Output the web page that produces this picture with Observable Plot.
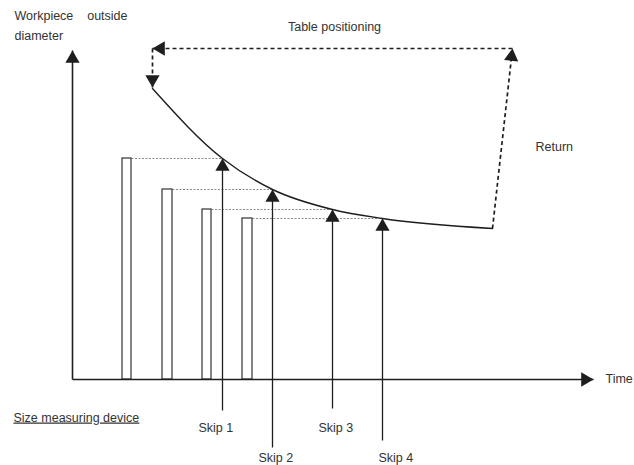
<!DOCTYPE html>
<html>
<head>
<meta charset="utf-8">
<script src="https://cdn.jsdelivr.net/npm/d3@7"></script>
<script src="https://cdn.jsdelivr.net/npm/@observablehq/plot@0.6"></script>
<style>
  html, body { margin: 0; padding: 0; background: #fff; }
</style>
</head>
<body>
<div id="chart"></div>
<script>
// ---- Data (time units / diameter units) ----
const curveT = [8.0, 15.0, 20.0, 26.0, 31.0, 42.0];
const curveD = [29.1, 22.1, 19.0, 17.0, 16.1, 15.1];

const skipNames = ["Skip 1", "Skip 2", "Skip 3", "Skip 4"];
const skipT = [15.0, 20.0, 26.0, 31.0];
const skipD = [22.1, 19.0, 17.0, 16.1];
const skipTail = [-3.1, -6.8, -2.9, -6.1];
const labelT = [12.6, 18.6, 24.6, 30.6];
const labelD = [-4.8, -7.8, -4.8, -7.8];

const barStart = [5.0, 9.0, 13.0, 17.0];
const barEnd = [5.9, 10.0, 13.9, 18.0];

const timeAxisEnd = 52.1;
const diamAxisEnd = 32.9;

const returnT = [42.0, 44.0];
const returnD = [15.1, 33.1];
const positioningT = [44.0, 8.0];

const leftLabels = ["Workpiece\u00a0\u00a0\u00a0\u00a0outside", "diameter", "Return", "Time", "Size measuring device"];
const leftT = [-5.8, -5.8, 46.3, 53.3, -5.9];
const leftD = [36.4, 34.4, 23.3, 0.1, -3.8];
const centerLabels = ["Table positioning"];
const centerT = [26.2];
const centerD = [35.3];

// ---- Build tables ----
const skips = skipNames.map((name, i) => ({name, t: skipT[i], d: skipD[i], tail: skipTail[i], lt: labelT[i], ld: labelD[i]}));
const bars = barStart.map((s, i) => ({t1: s, t2: barEnd[i], d: skipD[i], guideEnd: skipT[i]}));
const curve = curveT.map((t, i) => ({t, d: curveD[i]}));
const leftTexts = leftLabels.map((s, i) => ({s, t: leftT[i], d: leftD[i]}));
const centerTexts = centerLabels.map((s, i) => ({s, t: centerT[i], d: centerD[i]}));

const ink = "#1e1e1e";
const txt = "#333";
const HEAD = 8.2;
function head(t, d, deg) {
  const r = deg * Math.PI / 180;
  return Plot.dot([{t, d}], {
    x: "t", y: "d", symbol: "triangle", r: 5.3, fill: ink, stroke: "none",
    rotate: deg, dx: -HEAD * Math.sin(r), dy: HEAD * Math.cos(r)
  });
}
const returnAngle = Math.atan2((returnT[1] - returnT[0]) * 10, (returnD[1] - returnD[0]) * 10) * 180 / Math.PI;

const chart = Plot.plot({
  width: 634,
  height: 465,
  margin: 0,
  x: {domain: [-7.2, 56.2], axis: null},
  y: {domain: [-8.6, 37.9], axis: null},
  style: {fontFamily: "'Liberation Sans', Arial, sans-serif", fontSize: "12.5px", background: "#fff", overflow: "visible"},
  marks: [
    // guide lines from bar tops to the curve
    Plot.link(bars, {x1: "t2", x2: "guideEnd", y1: "d", y2: "d", stroke: "#8a8a8a", strokeWidth: 1, strokeDasharray: "2,1.5"}),
    // measuring bars
    Plot.rect(bars, {x1: "t1", x2: "t2", y1: 0, y2: "d", fill: "#fff", stroke: "#333", strokeWidth: 1.2}),
    // axes
    Plot.link([{t1: 0, d1: 0, t2: 0, d2: diamAxisEnd}, {t1: 0, d1: 0, t2: timeAxisEnd, d2: 0}],
      {x1: "t1", y1: "d1", x2: "t2", y2: "d2", stroke: ink, strokeWidth: 1.6}),
    head(0, diamAxisEnd, 0),
    head(timeAxisEnd, 0, 90),
    // diameter curve
    Plot.line(curve, {x: "t", y: "d", curve: "monotone-x", stroke: ink, strokeWidth: 1.4}),
    // skip arrows
    Plot.link(skips, {x1: "t", x2: "t", y1: "tail", y2: "d", stroke: ink, strokeWidth: 1.3}),
    ...skips.map(s => head(s.t, s.d, 0)),
    // return / table positioning dashed path
    Plot.link([
      {t1: returnT[0], d1: returnD[0], t2: returnT[1], d2: returnD[1]},
      {t1: positioningT[0], d1: returnD[1], t2: positioningT[1], d2: returnD[1]},
      {t1: positioningT[1], d1: returnD[1], t2: curveT[0], d2: curveD[0]}
    ], {x1: "t1", y1: "d1", x2: "t2", y2: "d2", stroke: ink, strokeWidth: 1.7, strokeDasharray: "4,3"}),
    head(returnT[1], returnD[1], returnAngle),
    head(positioningT[1], returnD[1], -90),
    head(curveT[0], curveD[0] + 0.1, 180),
    // labels
    Plot.text(skips, {x: "lt", y: "ld", text: "name", textAnchor: "start", fill: txt, fontSize: 12.5}),
    Plot.text(leftTexts, {x: "t", y: "d", text: "s", textAnchor: "start", fill: txt, fontSize: 12.5}),
    Plot.text(centerTexts, {x: "t", y: "d", text: "s", textAnchor: "middle", fill: txt, fontSize: 12.5})
  ]
});

d3.select(chart).selectAll("text")
  .filter(function() { return this.textContent === "Size measuring device"; })
  .attr("text-decoration", "underline");

document.getElementById("chart").appendChild(chart);
</script>
</body>
</html>
